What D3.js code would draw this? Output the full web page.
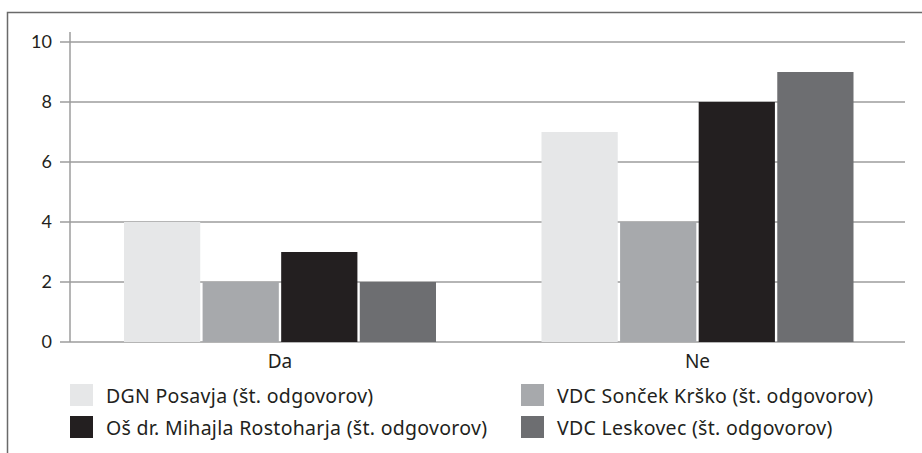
<!DOCTYPE html>
<html>
<head>
<meta charset="utf-8">
<script src="https://cdn.jsdelivr.net/npm/d3@7"></script>
<style>
  body { margin: 0; background: #fff; }
  .tick text { font-family: Lato, sans-serif; }
</style>
</head>
<body>
<svg id="chart" width="922" height="453"></svg>
<script>
var categories = ["Da", "Ne"]
var series = [
    "DGN Posavja (št. odgovorov)",
    "VDC Sonček Krško (št. odgovorov)",
    "Oš dr. Mihajla Rostoharja (št. odgovorov)",
    "VDC Leskovec (št. odgovorov)"
]
var dgnPosavja = [4, 7]
var vdcSoncek = [2, 4]
var osRostoharja = [3, 8]
var vdcLeskovec = [2, 9]
var yTicks = [0, 2, 4, 6, 8, 10]

var values = [dgnPosavja, vdcSoncek, osRostoharja, vdcLeskovec]
var colors = ["#e6e7e8", "#a7a9ac", "#231f20", "#6d6e71"]
var labelFont = "'Noto Sans', 'Open Sans', sans-serif"

var svg = d3.select("#chart"),
    margin = { top: 42, left: 70, bottom: 111, right: 17 },
    width = 922, height = 453

// frame round the figure (open on the right and bottom)
svg.append("path")
    .attr("d", `M7.5,${height}V12.5H${width}`)
    .attr("fill", "none")
    .attr("stroke", "#6a6a6a")
    .attr("stroke-width", 1.5)

var x0 = d3.scaleBand()
    .domain(categories)
    .range([margin.left, width - margin.right])

var x1 = d3.scaleBand()
    .domain(series)
    .range([54, 366])
    .paddingInner(0.03)

var y = d3.scaleLinear()
    .domain([0, 10])
    .range([height - margin.bottom, margin.top])

// gridlines
svg.append("g")
    .selectAll("line")
    .data(yTicks)
    .join("line")
    .attr("x1", margin.left - 10)
    .attr("x2", width - margin.right)
    .attr("y1", d => y(d))
    .attr("y2", d => y(d))
    .attr("stroke", "#9d9d9d")
    .attr("stroke-width", 1.5)

// y axis
var yAxis = svg.append("g")
    .attr("transform", `translate(${margin.left},0)`)
    .call(d3.axisLeft(y).tickValues(yTicks).tickSize(0).tickPadding(18))
yAxis.select(".domain")
    .attr("d", `M0,${y(0)}V${y(10) - 10}`)
    .attr("stroke", "#9d9d9d")
    .attr("stroke-width", 1.5)
yAxis.selectAll("text")
    .attr("font-size", 18)
    .attr("fill", "#231f20")

// bars
svg.append("g")
    .selectAll("g")
    .data(categories)
    .join("g")
    .attr("transform", d => `translate(${x0(d)},0)`)
    .selectAll("rect")
    .data((d, i) => series.map((s, j) => ({ s: s, v: values[j][i], c: colors[j] })))
    .join("rect")
    .attr("x", d => x1(d.s))
    .attr("width", x1.bandwidth())
    .attr("y", d => y(d.v))
    .attr("height", d => y(0) - y(d.v))
    .attr("fill", d => d.c)

// category labels
svg.append("g")
    .selectAll("text")
    .data(categories)
    .join("text")
    .attr("x", d => x0(d) + (x1.range()[0] + x1.range()[1]) / 2)
    .attr("y", 368)
    .attr("text-anchor", "middle")
    .attr("font-family", labelFont)
    .attr("font-size", 19)
    .attr("fill", "#231f20")
    .text(d => d)

// legend, two columns
var legend = svg.append("g")
    .selectAll("g")
    .data(series)
    .join("g")
    .attr("transform", (d, i) => `translate(${i % 2 ? 521 : 70},${i < 2 ? 384 : 416})`)

legend.append("rect")
    .attr("width", 23)
    .attr("height", 22)
    .attr("fill", (d, i) => colors[i])

legend.append("text")
    .attr("x", 36)
    .attr("y", 18.5)
    .attr("font-family", labelFont)
    .attr("font-size", 19.5)
    .attr("letter-spacing", 0.3)
    .attr("fill", "#231f20")
    .text(d => d)
</script>
</body>
</html>
